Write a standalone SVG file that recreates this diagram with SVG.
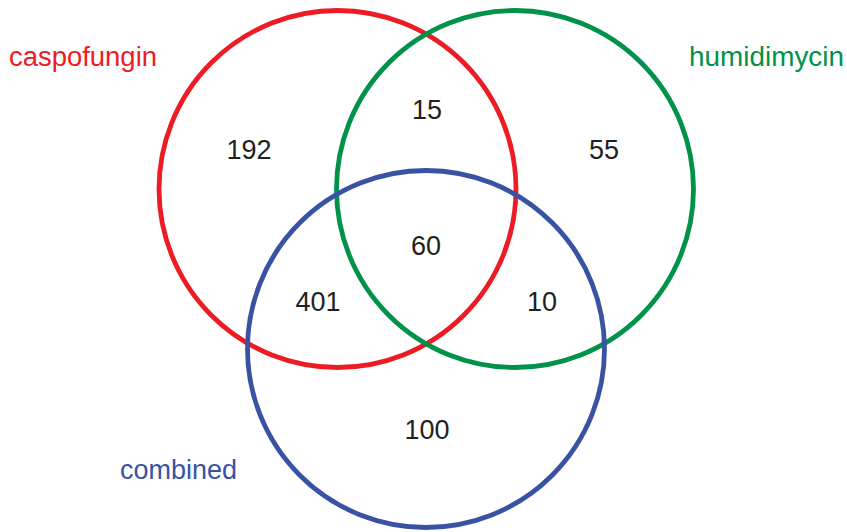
<svg xmlns="http://www.w3.org/2000/svg" width="847" height="532" viewBox="0 0 847 532">
<style>
.c{fill:none;stroke-width:4.8}
.n{font-family:"Liberation Sans",Arial,sans-serif;font-size:27px;fill:#231F20;text-anchor:middle}
.l{font-family:"Liberation Sans",Arial,sans-serif;font-size:27px}
</style>
<rect width="847" height="532" fill="#fff"/>
<g id="caspofungin">
<circle class="c" cx="337.5" cy="189" r="178.5" stroke="#ED1C24"/>
<text class="l" x="9" y="66" fill="#ED1C24" textLength="148" lengthAdjust="spacingAndGlyphs">caspofungin</text>
</g>
<g id="humidimycin">
<circle class="c" cx="515" cy="189" r="178.5" stroke="#00924A"/>
<text class="l" x="689" y="66" fill="#00924A" textLength="155" lengthAdjust="spacingAndGlyphs">humidimycin</text>
</g>
<g id="combined">
<circle class="c" cx="426" cy="349" r="178.5" stroke="#3953A4"/>
<text class="l" x="120" y="479" fill="#3953A4">combined</text>
</g>
<g id="counts">
<text class="n" x="249" y="159">192</text>
<text class="n" x="427" y="119">15</text>
<text class="n" x="604" y="159">55</text>
<text class="n" x="426" y="255">60</text>
<text class="n" x="318" y="311">401</text>
<text class="n" x="542" y="311">10</text>
<text class="n" x="427" y="439">100</text>
</g>
</svg>
